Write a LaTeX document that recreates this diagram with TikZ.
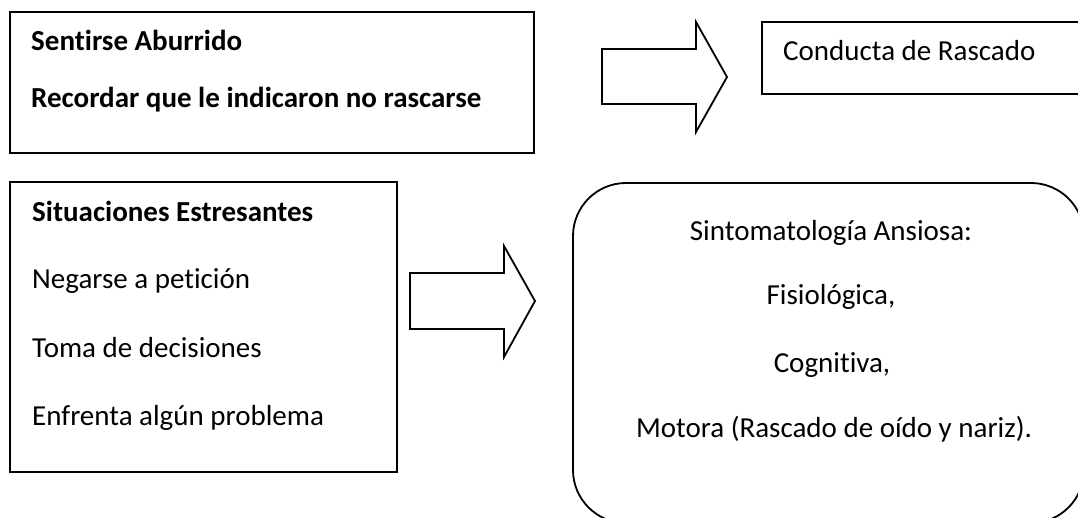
\documentclass[tikz,border=0pt]{standalone}
\usepackage{fontspec}
\setmainfont[Ligatures=NoCommon,RawFeature=-liga]{Carlito}
\begin{document}
\begin{tikzpicture}[x=1pt,y=-1pt,
  box/.style={draw,line width=1.8pt,inner sep=0pt},
  txt/.style={inner sep=0pt,font=\fontsize{29}{35}\selectfont},
  bold/.style={txt,font=\fontsize{29}{35}\selectfont\bfseries},
  blockarrow/.style={draw,line width=1.8pt,line join=miter}]
\useasboundingbox (0,0) rectangle (1078,518);
% boxes
\node[box, minimum width=524pt, minimum height=141pt] (b1) at (272,82.5) {};
\node[box, minimum width=328pt, minimum height=72pt] (b2) at (926,58) {};
\node[box, minimum width=387pt, minimum height=290pt] (b3) at (203.5,327) {};
\node[box, rounded corners=53pt, minimum width=511pt, minimum height=340pt] (b4) at (828.5,353) {};
% texts
\node[bold, anchor=base west] (t1) at (31,51) {Sentirse Aburrido};
\node[bold, anchor=base west] (t2) at (31,108) {Recordar que le indicaron no rascarse};
\node[txt, anchor=base west] (t3) at (783,61) {Conducta de Rascado};
\node[bold, anchor=base west] (t4) at (32,222) {Situaciones Estresantes};
\node[txt, anchor=base west] (t5) at (32,289) {Negarse a petición};
\node[txt, anchor=base west] (t6) at (32,357) {Toma de decisiones};
\node[txt, anchor=base west] (t7) at (32,425) {Enfrenta algún problema};
\node[txt, anchor=base] (t8) at (831,241) {Sintomatología Ansiosa:};
\node[txt, anchor=base] (t9) at (831,305) {Fisiológica,};
\node[txt, anchor=base] (t10) at (832,372) {Cognitiva,};
\node[txt, anchor=base] (t11) at (834,437) {Motora (Rascado de oído y nariz).};
% block arrows
\coordinate (a1) at (602,49);
\draw[blockarrow] (a1) -- ++(94,0) -- ++(0,-27) -- ++(31,55) -- ++(-31,55) -- ++(0,-28) -- ++(-94,0) -- cycle;
\coordinate (a2) at (410,273);
\draw[blockarrow] (a2) -- ++(94,0) -- ++(0,-27) -- ++(31,55) -- ++(-31,56) -- ++(0,-28) -- ++(-94,0) -- cycle;
\end{tikzpicture}
\end{document}
